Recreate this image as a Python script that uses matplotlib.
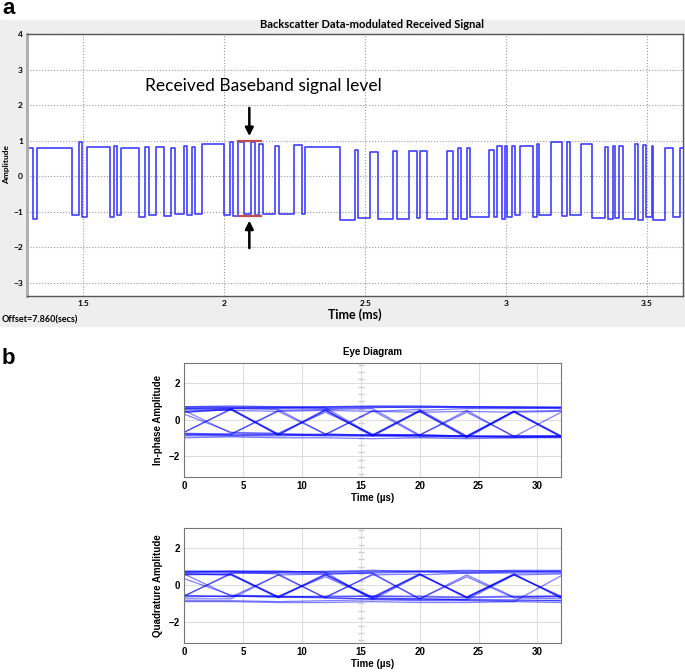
import matplotlib.pyplot as plt
import numpy as np
from matplotlib.patches import Rectangle

# ---- panel a : received baseband signal (edge times in ms, level of each segment) ----
edge_ms = [1.301, 1.323, 1.337, 1.460, 1.486, 1.496, 1.512, 1.596, 1.610, 1.621,
           1.635, 1.699, 1.717, 1.732, 1.759, 1.785, 1.812, 1.824, 1.856, 1.868,
           1.885, 1.897, 1.921, 1.998, 2.019, 2.032, 2.048, 2.071, 2.096, 2.110,
           2.122, 2.137, 2.181, 2.193, 2.246, 2.275, 2.287, 2.411, 2.465, 2.476,
           2.518, 2.547, 2.600, 2.612, 2.654, 2.683, 2.695, 2.721, 2.792, 2.813,
           2.831, 2.839, 2.860, 2.872, 2.941, 2.957, 2.967, 2.985, 2.996, 3.004,
           3.020, 3.032, 3.050, 3.095, 3.109, 3.117, 3.159, 3.198, 3.215, 3.227,
           3.265, 3.304, 3.351, 3.363, 3.378, 3.387, 3.402, 3.416, 3.457, 3.469,
           3.487, 3.496, 3.517, 3.522, 3.564, 3.591, 3.617, 3.635]
seg_level = [0.80, -1.20, 0.80, -1.10, 0.95, -1.15, 0.82, -1.15, 0.85, -1.10,
             0.78, -1.15, 0.82, -1.10, 0.82, -1.12, 0.80, -1.05, 0.85, -1.10,
             0.82, -1.05, 0.90, -1.10, 0.95, -1.12, 0.95, -1.05, 0.97, -1.08,
             0.90, -1.05, 0.85, -1.05, 0.88, -1.05, 0.82, -1.22, 0.75, -1.18,
             0.68, -1.20, 0.70, -1.20, 0.70, -1.18, 0.72, -1.20, 0.72, -1.20,
             0.80, -1.20, 0.78, -1.15, 0.75, -1.15, 0.85, -1.20, 0.85, -1.15,
             0.85, -1.10, 0.85, -1.15, 0.90, -1.10, 0.95, -1.12, 0.95, -1.10,
             0.90, -1.18, 0.82, -1.20, 0.85, -1.18, 0.85, -1.20, 0.90, -1.22,
             0.88, -1.15, 0.85, -1.22, 0.78, -1.15, 0.78]
a_yticks = [-3, -2, -1, 0, 1, 2, 3, 4]
a_xticks = [1.5, 2, 2.5, 3, 3.5]
level_top = 1.0
level_bot = -1.12
level_span = [2.048, 2.130]
arrow_x = 2.089

# ---- panel b : eye diagram traces, vertices every 4 us ----
eye_t = [0, 4, 8, 12, 16, 20, 24, 28, 32]
eye_i = [
    [0.40, 0.55, -0.85, 0.50, -0.90, 0.45, -0.95, 0.45, -0.90],
    [0.45, 0.60, -0.80, 0.55, -0.90, 0.45, -1.00, 0.40, -0.95],
    [0.40, 0.55, -0.85, 0.50, -0.85, 0.50, -0.95, 0.45, -0.90],
    [-0.70, 0.60, 0.65, 0.65, 0.70, 0.70, 0.65, 0.65, 0.60],
    [0.65, 0.65, 0.60, 0.60, 0.65, 0.70, 0.70, 0.65, 0.65],
    [0.70, 0.75, 0.70, 0.70, 0.75, 0.75, 0.70, 0.70, 0.70],
    [0.60, 0.65, 0.65, 0.70, 0.70, 0.65, 0.70, 0.70, 0.65],
    [-0.85, -0.85, -0.80, -0.85, -0.90, -0.85, -0.90, -0.95, -0.95],
    [-0.80, -0.85, -0.85, -0.90, -0.90, -0.95, -0.95, -0.90, -0.90],
    [-0.80, -0.80, 0.45, -0.80, -0.85, -0.85, -0.90, -0.90, -0.90],
    [0.50, -0.75, -0.80, -0.85, 0.50, -0.90, -0.95, -1.00, -0.95],
    [0.60, 0.60, 0.55, -0.80, -0.85, -0.85, 0.50, -0.95, -0.90],
    [-0.75, -0.80, 0.50, 0.55, 0.60, -0.85, -0.90, 0.45, 0.50],
    [0.70, 0.70, 0.70, 0.65, -0.85, -0.90, -0.90, -0.95, 0.40],
    [-0.90, -0.90, -0.90, -0.85, -0.85, 0.50, 0.60, 0.60, 0.65],
    [0.30, -0.70, -0.75, 0.40, -0.80, -0.85, 0.40, -0.90, -0.95],
    [-0.70, 0.55, -0.80, -0.80, 0.45, 0.55, -0.90, 0.45, -0.95],
    [-1.00, -0.95, -1.00, -1.00, -1.05, -1.00, -1.05, -1.00, -1.00],
    [0.55, 0.50, 0.45, 0.50, 0.45, 0.40, 0.45, 0.40, 0.45],
]
eye_q = [
    [0.60, 0.55, -0.70, 0.55, -0.65, 0.60, -0.70, 0.55, -0.65],
    [0.55, 0.60, -0.65, 0.60, -0.70, 0.55, -0.65, 0.60, -0.70],
    [0.60, 0.55, -0.65, 0.55, -0.70, 0.60, -0.65, 0.55, -0.60],
    [-0.60, 0.65, 0.70, 0.70, 0.75, 0.75, 0.70, 0.75, 0.75],
    [0.75, 0.75, 0.70, 0.75, 0.80, 0.75, 0.75, 0.80, 0.80],
    [0.65, 0.65, 0.65, 0.60, 0.65, 0.70, 0.65, 0.65, 0.65],
    [0.70, 0.75, 0.75, 0.70, 0.70, 0.75, 0.80, 0.75, 0.70],
    [-0.65, -0.60, -0.60, -0.65, -0.60, -0.65, -0.70, -0.65, -0.65],
    [-0.60, -0.60, -0.65, -0.60, -0.60, -0.60, -0.65, -0.60, -0.60],
    [-0.75, -0.75, 0.55, -0.70, -0.75, -0.80, -0.80, -0.85, -0.85],
    [0.60, -0.60, -0.65, -0.70, 0.60, -0.75, -0.80, -0.80, -0.85],
    [0.70, 0.70, 0.60, -0.70, -0.75, -0.75, 0.55, -0.65, -0.60],
    [-0.55, -0.65, 0.55, 0.60, 0.65, -0.75, -0.80, 0.55, 0.60],
    [0.75, 0.75, 0.75, 0.70, -0.80, -0.85, -0.85, -0.90, 0.50],
    [-0.85, -0.85, -0.90, -0.85, -0.80, 0.55, 0.65, 0.70, 0.75],
    [0.35, -0.55, -0.60, 0.45, -0.70, -0.75, 0.45, -0.70, -0.75],
    [-0.60, 0.60, -0.65, -0.65, 0.55, 0.60, -0.70, 0.60, -0.70],
    [-0.90, -0.90, -0.95, -0.95, -0.90, -0.95, -0.95, -0.90, -0.95],
]
eye_xticks = [0, 5, 10, 15, 20, 25, 30]
eye_yticks = [-2, 0, 2]

W, H = 685, 672
fig = plt.figure(figsize=(6.85, 6.72), dpi=100)

# grey scope background of panel a
fig.patches.append(Rectangle((0, 1 - 326 / H), 1, 306 / H, transform=fig.transFigure,
                             color='#eeeeee', zorder=-5))

calib = ['Lato', 'DejaVu Sans']
arial = ['Liberation Sans', 'DejaVu Sans']

# ---------------- panel a ----------------
ax = fig.add_axes([27 / W, 1 - 296 / H, 656 / W, 262 / H])
ax.set_facecolor('white')
xs, ys = [], []
for k in range(len(seg_level)):
    xs += [edge_ms[k], edge_ms[k + 1]]
    ys += [seg_level[k], seg_level[k]]
ax.plot(xs, ys, color='#2b2bff', lw=1.2, alpha=0.9)
ax.set_xlim(1.30, 3.628)
ax.set_ylim(-3.37, 4.0)
ax.set_yticks(a_yticks)
ax.set_xticks(a_xticks)
ax.set_xticklabels(['1.5', '2', '2.5', '3', '3.5'])
ax.grid(True, ls=':', color='#999999', lw=0.8)
ax.tick_params(length=0, labelsize=6, pad=3)
for lab in ax.get_xticklabels() + ax.get_yticklabels():
    lab.set_fontweight('bold')
    lab.set_family(calib)
for s in ax.spines.values():
    s.set_color('#555555')
    s.set_linewidth(1.0)
ax.spines['left'].set_color('#aaaaaa')
ax.spines['left'].set_linewidth(2)
ax.set_ylabel('Amplitude', fontsize=6, fontweight='bold', family=calib, labelpad=2)
ax.set_xlabel('Time (ms)', fontsize=9, fontweight='bold', family=calib, labelpad=1)

# signal level markers
ax.plot(level_span, [level_top, level_top], color='#c0504d', lw=1.6)
ax.plot(level_span, [level_bot, level_bot], color='#c0504d', lw=1.6)
ax.annotate('', xy=(arrow_x, level_top + 0.05), xytext=(arrow_x, 2.0),
            arrowprops=dict(arrowstyle='-|>', color='black', lw=1.8, mutation_scale=12))
ax.annotate('', xy=(arrow_x, level_bot - 0.05), xytext=(arrow_x, -2.1),
            arrowprops=dict(arrowstyle='-|>', color='black', lw=1.8, mutation_scale=12))
ax.text(1.72, 2.53, 'Received Baseband signal level', fontsize=12.5, family=calib,
        va='center', ha='left')

fig.text(372 / W, 1 - 25 / H, 'Backscatter Data-modulated Received Signal', ha='center',
         va='center', fontsize=8, fontweight='bold', family=calib)
fig.text(2 / W, 1 - 320 / H, 'Offset=7.860(secs)', ha='left', va='center', fontsize=6.5,
         fontweight='bold', family=calib)
fig.text(2 / W, 1 - 9 / H, 'a', ha='left', va='center', fontsize=16, fontweight='bold', family=arial)
fig.text(2 / W, 1 - 359 / H, 'b', ha='left', va='center', fontsize=16, fontweight='bold', family=arial)

# ---------------- panel b ----------------
def eye_axes(rect, traces, ylabel):
    e = fig.add_axes(rect)
    for tr in traces:
        e.plot(eye_t, tr, color='#0000ff', lw=0.9, alpha=0.5)
    e.set_xlim(0, 32)
    e.set_ylim(-3.15, 3.1)
    e.set_xticks(eye_xticks)
    e.set_yticks(eye_yticks)
    e.grid(True, color='#dddddd', lw=0.8)
    e.set_axisbelow(True)
    e.plot(np.full(16, 15.0), np.linspace(-3.0, 3.0, 16), ls='none', marker='_', ms=5,
           color='#cccccc', zorder=0)
    e.tick_params(length=0, labelsize=7, pad=3)
    for lab in e.get_xticklabels() + e.get_yticklabels():
        lab.set_fontweight('bold')
        lab.set_family(arial)
    for s in e.spines.values():
        s.set_color('#777777')
    e.set_ylabel(ylabel, fontsize=7, fontweight='bold', family=arial, labelpad=4)
    e.set_xlabel('Time (\u00b5s)', fontsize=7, fontweight='bold', family=arial, labelpad=1)
    return e

e1 = eye_axes([184 / W, 1 - 477 / H, 377 / W, 114 / H], eye_i, 'In-phase Amplitude')
e1.set_title('Eye Diagram', fontsize=7, fontweight='bold', family=arial, pad=6)
e2 = eye_axes([184 / W, 1 - 643 / H, 377 / W, 115 / H], eye_q, 'Quadrature Amplitude')

fig.savefig('out.png', dpi=100)
